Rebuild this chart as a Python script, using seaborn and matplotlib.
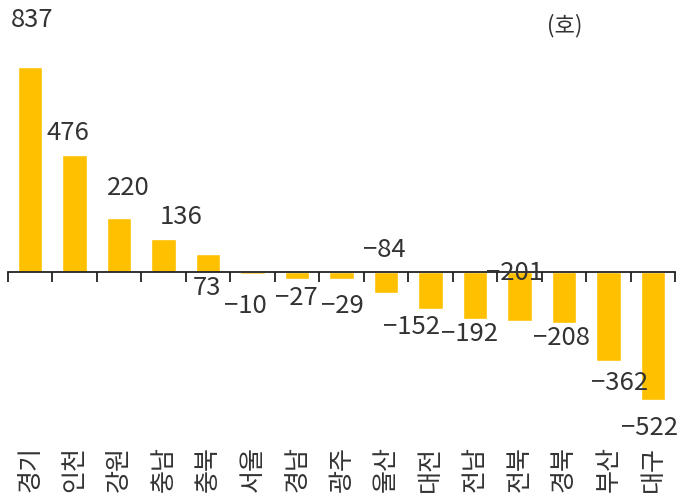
import numpy as np
import pandas as pd
import matplotlib
matplotlib.use("Agg")
import matplotlib.pyplot as plt
import matplotlib.transforms as mtransforms
import seaborn as sns

# regional change (units: 호)
regions = ['경기', '인천', '강원', '충남', '충북', '서울', '경남', '광주',
           '울산', '대전', '전남', '전북', '경북', '부산', '대구']
values = [837, 476, 220, 136, 73, -10, -27, -29, -84, -152, -192, -201, -208, -362, -522]

# label offsets in pixels from bar end (dx right, dy up) - hand placed like the original
label_dx = [2, -7, 9, 18, -1, -7, -1, 1, -2, -19, -5, -5, -2, 11, -3]
label_dy = [47, 22, 30, 22, -34, -32, -19, -27, 43, -18, -15, 48, -15, -22, -28]

df = pd.DataFrame({'region': regions, 'value': values})

sns.set_style('white')
plt.rcParams['font.family'] = ['Noto Sans CJK KR', 'DejaVu Sans']

W, H = 683, 504
fig = plt.figure(figsize=(W / 100, H / 100), dpi=100)
ax = fig.add_axes([8 / W, 64 / H, 667 / W, 435 / H])

sns.barplot(data=df, x='region', y='value', color='#FFC000', saturation=1,
            width=0.55, ax=ax)

ax.set_xlim(-0.5, len(regions) - 0.5)
ax.set_ylim(-686, 1090)

# axis line at zero with ticks between categories
for s in ['top', 'right', 'left']:
    ax.spines[s].set_visible(False)
ax.spines['bottom'].set_position(('data', 0))
ax.spines['bottom'].set_color('#222222')
ax.spines['bottom'].set_linewidth(1.3)
ax.set_xticks(np.arange(-0.5, len(regions), 1.0))
ax.set_xticklabels([])
ax.tick_params(axis='x', direction='out', length=7, width=1.3, color='#222222', bottom=True)
ax.set_yticks([])
ax.set_xlabel('')
ax.set_ylabel('')

txt_color = '#333333'
for i, v in enumerate(values):
    lab = str(v).replace('-', '\u2212')
    ax.annotate(lab, xy=(i, v), xytext=(label_dx[i] * 0.72, label_dy[i] * 0.72),
                textcoords='offset points', ha='center', va='center',
                fontsize=18.5, color=txt_color, weight='light')

# category labels at the bottom, rotated
trans = mtransforms.blended_transform_factory(ax.transData, fig.transFigure)
for i, r in enumerate(regions):
    ax.text(i, 1 - 446 / H, r, transform=trans, rotation=90, ha='center', va='top',
            fontsize=18, color=txt_color, weight='light')

fig.text(565 / W, 1 - 26 / H, '(호)', ha='center', va='center', fontsize=16,
         color=txt_color, weight='light')

fig.savefig('out.png', dpi=100)
